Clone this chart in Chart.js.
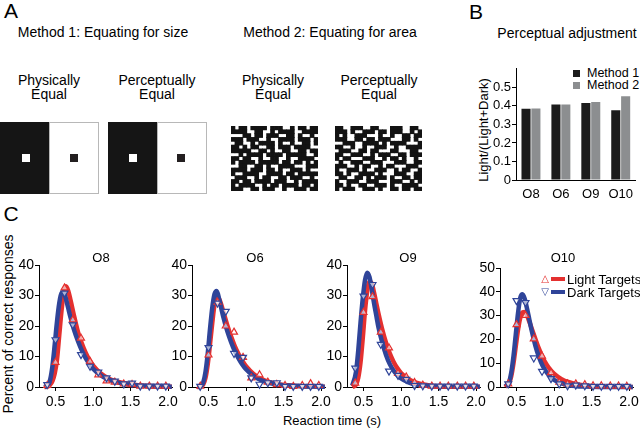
<!DOCTYPE html>
<html>
<head>
<meta charset="utf-8">
<script src="https://cdn.jsdelivr.net/npm/chart.js@4.4.0/dist/chart.umd.min.js"></script>
<style>
  html, body { margin: 0; padding: 0; background: #fff; }
  #fig { position: relative; width: 640px; height: 428px; overflow: hidden; background: #fff;
         font-family: 'Liberation Sans', Arial, sans-serif; color: #000; }
  #fig div { position: absolute; }
</style>
</head>
<body>
<div id="fig"></div>
<script>
// ---- datos panel B ----
const categoriasB = ['O8', 'O6', 'O9', 'O10'];
const metodo1 = [0.385, 0.407, 0.416, 0.376];
const metodo2 = [0.386, 0.408, 0.421, 0.452];
const ticksB = [0, 0.1, 0.2, 0.3, 0.4, 0.5];

// ---- datos panel C ----
// x de las curvas ajustadas (s)
const curvaX = [0.35, 0.40, 0.43, 0.46, 0.49, 0.52, 0.55, 0.58, 0.61, 0.64, 0.67, 0.70, 0.75, 0.80,
                0.85, 0.90, 0.95, 1.00, 1.10, 1.20, 1.30, 1.40, 1.50, 1.60, 1.70, 1.80, 1.90, 2.00, 2.05];
const o8Light  = [0, 0.2, 0.8, 2, 4.5, 9, 17, 25, 31, 33, 31.5, 28.5, 23, 18, 14.3, 11.3, 8.9, 7.1, 4.5, 2.9, 1.9, 1.3, 0.9, 0.6, 0.4, 0.3, 0.2, 0.15, 0.1];
const o8Dark   = [0, 0.6, 2.5, 7, 14, 21.5, 27.5, 30.8, 31, 28.8, 25.8, 22.8, 18.5, 15, 12, 9.5, 7.6, 6, 3.9, 2.5, 1.7, 1.1, 0.7, 0.5, 0.3, 0.2, 0.15, 0.1, 0.1];
const o6Light  = [0, 0.2, 0.8, 3, 7.5, 14, 21, 27, 29.5, 29, 27, 24.5, 20.3, 16.6, 13.4, 10.8, 8.6, 6.8, 4.3, 2.7, 1.7, 1.1, 0.7, 0.5, 0.3, 0.2, 0.15, 0.1, 0.1];
const o6Dark   = [0, 0.3, 1.5, 5, 11, 19, 26, 30.5, 31.5, 29, 25.8, 22.7, 18.3, 14.8, 11.8, 9.4, 7.4, 5.8, 3.6, 2.2, 1.4, 0.9, 0.6, 0.4, 0.3, 0.2, 0.15, 0.1, 0.1];
const o9Light  = [0, 0.8, 3, 8, 16, 25, 31.5, 34.5, 34, 31, 27.5, 24, 18.8, 14.5, 11, 8.3, 6.2, 4.6, 2.6, 1.4, 0.8, 0.45, 0.25, 0.15, 0.1, 0.05, 0.05, 0.05, 0.05];
const o9Dark   = [0.5, 5, 12, 21, 29, 35, 37.5, 36, 32, 27.5, 23.5, 19.5, 14.5, 10.5, 7.5, 5.4, 3.9, 2.8, 1.5, 0.8, 0.45, 0.25, 0.15, 0.1, 0.05, 0.05, 0.05, 0.05, 0.05];
const o10Light = [0.1, 1.5, 4.5, 10, 17, 24, 29, 31.3, 31.5, 30, 27.5, 24.8, 20.3, 16, 12.3, 9.5, 7.3, 5.6, 3.3, 2, 1.2, 0.75, 0.45, 0.3, 0.2, 0.12, 0.08, 0.05, 0.05];
const o10Dark  = [0.2, 2, 6, 13, 22, 31, 37.5, 39, 37, 33, 28.5, 24, 17.5, 12.5, 8.8, 6.2, 4.3, 3, 1.5, 0.7, 0.35, 0.2, 0.1, 0.05, 0.05, 0.05, 0.05, 0.05, 0.05];

// puntos medidos (marcadores)
const marcaX = [0.39, 0.50, 0.62, 0.73, 0.84, 0.96, 1.07, 1.18, 1.29, 1.41, 1.52, 1.63, 1.75, 1.86, 1.97];
const o8LightM  = [0.5, 8.1, 32.5, 22, 16, 8.4, 4, 2, 1.6, 1, 0.8, 0.3, 0.3, 0.3, 0.3];
const o8DarkM   = [0.8, 15.5, 30.8, 20.4, 10.6, 6.8, 4.9, 3, 1.9, 1, 1.3, 0.3, 0.3, 0.3, 0.3];
const o6LightM  = [0.3, 10.5, 27.8, 20, 18, 9.7, 3, 4, 1.6, 0.8, 0.5, 0.2, 0.5, 1.1, 0.5];
const o6DarkM   = [0.2, 12.9, 27.5, 24.8, 11, 9.7, 3, 0.9, 1.4, 1.4, 0.2, 0.2, 0.2, 0.2, 0.2];
const o9LightM  = [1.3, 24.5, 29.6, 18, 12.8, 4.5, 3.3, 1.5, 0.6, 0.3, 0.3, 0.3, 0.3, 0.3, 0.3];
const o9DarkM   = [6.2, 29.8, 33.6, 14, 5.2, 3.8, 2.5, 0.5, 0.4, 0.3, 0.3, 0.3, 0.3, 0.3, 0.3];
const o10LightM = [1.3, 26.2, 30.1, 20.2, 13, 6, 2, 1.3, 1.3, 1, 0.5, 0.5, 0.4, 0.4, 0.3];
const o10DarkM  = [1.3, 36.3, 35.5, 12.2, 6.6, 3.5, 1.3, 0.5, 0.8, 0.5, 0.3, 0.3, 0.3, 0.3, 0.3];
const ticksRT = [0.5, 1.0, 1.5, 2.0];

// ---- patrones panel A (metodo 2) ----
const patron1 = [
  "#.##.####.###..#.##.##",
  "####..##..#.####..####",
  "...##.##.###..##.#..#.",
  "###.###..#..####.###.#",
  ".##..#.####.#..#..##.#",
  "##.#.##..##.###.####..",
  "#####..##.#..##..##.##",
  "..#.####.####.#####..#",
  "##.##..#..##..#..####.",
  "#.####.#####.##.##.#.#",
  "..##..##.#..####...###",
  "####.###.##.#..###.#..",
  "#..####..####.##.#####",
  ".###..#.##..##.###..#.",
  "##.##.####.###..#.####",
  "#.####..#.##.####.##.#",
  "###..##.###..#..###.##"
];
const patron2 = [
  "##..###..##...###..##.",
  "###.#..###.##.###..#.#",
  "#.#..###...#..#..##.##",
  "###..##.##.###...##.#.",
  "..###..####.#.####...#",
  "##..#..#..###..#..####",
  ".###..##.##...##...##.",
  "##..###..#.###..##.###",
  "#.##...###..#.##.#..#.",
  ".#..###..###...###..##",
  "###..#.##..#.##...###.",
  "#..###.#..###..#.##..#",
  "##.#..####.#...###..##",
  ".##..##.#.###.#..##.##",
  "#..###..###...###..#.#",
  "##.#..##..###.#..####.",
  "#.###..###.#..##.##.##"
];

const RED = '#e4302f';
const BLUE = '#2f4499';
const FONT = "'Liberation Sans', Arial, sans-serif";
Chart.defaults.font.family = FONT;
Chart.defaults.color = '#000';
Chart.defaults.animation = false;

const fig = document.getElementById('fig');

function texto(t, x, y, size, opts) {
    opts = opts || {};
    const d = document.createElement('div');
    d.textContent = t;
    let tr = opts.left ? 'translate(0,-50%)' : 'translate(-50%,-50%)';
    if (opts.rot) tr += ' rotate(-90deg)';
    d.style.cssText = `left:${x}px;top:${y}px;font-size:${size}px;white-space:nowrap;line-height:1;transform:${tr};`
        + (opts.color ? `color:${opts.color};` : '') + (opts.font ? `font-family:${opts.font};` : '');
    fig.appendChild(d);
    return d;
}

function caja(x, y, w, h, estilo) {
    const d = document.createElement('div');
    d.style.cssText = `left:${x}px;top:${y}px;width:${w}px;height:${h}px;box-sizing:border-box;${estilo}`;
    fig.appendChild(d);
}

function nuevoCanvas(left, top, w, h) {
    const c = document.createElement('canvas');
    c.width = w;
    c.height = h;
    c.style.cssText = `position:absolute;left:${left}px;top:${top}px;width:${w}px;height:${h}px;`;
    fig.appendChild(c);
    return c;
}

function puntos(xs, ys) {
    return xs.map((x, i) => ({ x: x, y: ys[i] }));
}

// ---------- Panel A ----------
texto('A', 11, 10, 21);
texto('Method 1: Equating for size', 103, 32, 14);
texto('Method 2: Equating for area', 330, 32, 14);
[[49, 'Physically'], [157, 'Perceptually'], [273, 'Physically'], [379, 'Perceptually']].forEach(p => {
    texto(p[1], p[0], 80, 14);
    texto('Equal', p[0], 94, 14);
});
// estimulos metodo 1
[0, 108].forEach(x0 => {
    caja(x0, 122, 49, 72, 'background:#151515;');
    caja(x0 + 49, 122, 50, 72, 'background:#fff;border:1px solid #b8b8b8;');
});
caja(22, 154, 8, 8, 'background:#fff;');
caja(70, 154, 8, 8, 'background:#231f20;');
caja(129, 154, 8, 8, 'background:#fff;');
caja(177, 154, 8, 8, 'background:#231f20;');

function graficaPatron(patron, left) {
    const celdas = [];
    patron.forEach((fila, r) => {
        for (let c = 0; c < fila.length; c++) {
            if (fila[c] === '#') celdas.push({ x: c, y: r });
        }
    });
    const canvas = nuevoCanvas(left, 122, 95, 73);
    new Chart(canvas.getContext('2d'), {
        type: 'scatter',
        data: { datasets: [{ data: celdas, pointStyle: 'rect', pointRadius: 3.3, pointBorderWidth: 0,
                             pointBackgroundColor: '#131313' }] },
        options: {
            responsive: false, devicePixelRatio: 1,
            layout: { padding: 0 },
            plugins: { legend: { display: false }, tooltip: { enabled: false } },
            scales: {
                x: { display: false, min: -0.5, max: 21.5 },
                y: { display: false, reverse: true, min: -0.5, max: 16.5 }
            }
        }
    });
}
graficaPatron(patron1, 227);
graficaPatron(patron2, 331);

// ---------- Panel B ----------
texto('B', 476, 11, 21);
texto('Perceptual adjustment', 567, 33, 14);
texto('Light/(Light+Dark)', 483, 130, 13, { rot: true });
caja(573, 70, 7, 7, 'background:#1c1c1c;');
caja(573, 82, 7, 7, 'background:#8c8e90;');
texto('Method 1', 587, 73, 12.5, { left: true });
texto('Method 2', 587, 85, 12.5, { left: true });

const canvasB = nuevoCanvas(486, 60, 154, 145);
new Chart(canvasB.getContext('2d'), {
    type: 'bar',
    data: {
        labels: categoriasB,
        datasets: [
            { label: 'Method 1', data: metodo1, backgroundColor: '#1c1c1c' },
            { label: 'Method 2', data: metodo2, backgroundColor: '#8c8e90' }
        ]
    },
    options: {
        responsive: false, devicePixelRatio: 1,
        layout: { padding: { top: 8, right: 0, left: 0, bottom: 0 } },
        plugins: { legend: { display: false }, tooltip: { enabled: false } },
        datasets: { bar: { categoryPercentage: 0.66, barPercentage: 0.92 } },
        scales: {
            x: {
                afterFit: s => { s.height = 25; },
                grid: { display: false, drawTicks: false },
                border: { color: '#000', width: 1 },
                ticks: { font: { size: 13 }, padding: 7, color: '#000' }
            },
            y: {
                min: 0, max: 0.6,
                afterBuildTicks: ax => { ax.ticks = ticksB.map(v => ({ value: v })); },
                afterFit: s => { s.width = 30; },
                grid: { drawOnChartArea: false, color: '#000', tickLength: 4 },
                border: { color: '#000', width: 1 },
                ticks: { font: { size: 13 }, padding: 1, color: '#000' }
            }
        }
    }
});

// ---------- Panel C ----------
texto('C', 11, 213, 21);
texto('Percent of correct responses', 8, 324, 14, { rot: true });
texto('Reaction time (s)', 332, 420, 13);

function graficaRT(ejeX, yMax, padTop, light, dark, lightM, darkM) {
    const canvas = nuevoCanvas(ejeX - 30, 255, 172, 154);
    const ticksY = [];
    for (let v = 0; v <= yMax; v += 10) ticksY.push(v);
    const marca = (ys, color, rot, orden) => ({
        data: puntos(marcaX, ys), showLine: false, pointStyle: 'triangle', pointRotation: rot,
        pointRadius: 4, pointBorderWidth: 1.2, pointBorderColor: color,
        pointBackgroundColor: 'rgba(255,255,255,0.6)', clip: false, order: orden
    });
    const curva = (ys, color, orden) => ({
        data: puntos(curvaX, ys), borderColor: color, borderWidth: 4.5, pointRadius: 0,
        cubicInterpolationMode: 'monotone', fill: false, clip: false, order: orden
    });
    new Chart(canvas.getContext('2d'), {
        type: 'line',
        data: { datasets: [
            marca(darkM, BLUE, 180, 0),
            marca(lightM, RED, 0, 1),
            curva(dark, BLUE, 2),
            curva(light, RED, 3)
        ] },
        options: {
            responsive: false, devicePixelRatio: 1,
            layout: { padding: { top: padTop, right: 6, left: 0, bottom: 0 } },
            plugins: { legend: { display: false }, tooltip: { enabled: false } },
            scales: {
                x: {
                    type: 'linear', min: 0.28, max: 2.06,
                    afterBuildTicks: ax => { ax.ticks = ticksRT.map(v => ({ value: v })); },
                    afterFit: s => { s.height = 22; },
                    grid: { drawOnChartArea: false, color: '#000', tickLength: 4 },
                    border: { color: '#000', width: 1 },
                    ticks: { callback: v => Number(v).toFixed(1), font: { size: 14 }, padding: 3,
                             maxRotation: 0, color: '#000' }
                },
                y: {
                    min: 0, max: yMax,
                    afterBuildTicks: ax => { ax.ticks = ticksY.map(v => ({ value: v })); },
                    afterFit: s => { s.width = 30; },
                    grid: { drawOnChartArea: false, color: '#000', tickLength: 4 },
                    border: { color: '#000', width: 1 },
                    ticks: { font: { size: 14 }, padding: 1, color: '#000' }
                }
            }
        }
    });
}

graficaRT(39, 40, 10, o8Light, o8Dark, o8LightM, o8DarkM);
graficaRT(192, 40, 10, o6Light, o6Dark, o6LightM, o6DarkM);
graficaRT(347, 40, 10, o9Light, o9Dark, o9LightM, o9DarkM);
graficaRT(500, 50, 13, o10Light, o10Dark, o10LightM, o10DarkM);

texto('O8', 101, 257, 13);
texto('O6', 255, 257, 13);
texto('O9', 408, 257, 13);
texto('O10', 563, 257, 13);

// leyenda panel C
texto('\u25B3', 545, 279, 10, { color: RED, font: "'DejaVu Sans', sans-serif" });
caja(551, 277, 14, 4, 'background:' + RED + ';');
texto('Light Targets', 567, 279, 13, { left: true });
texto('\u25BD', 545, 292, 10, { color: BLUE, font: "'DejaVu Sans', sans-serif" });
caja(551, 290, 14, 4, 'background:' + BLUE + ';');
texto('Dark Targets', 567, 292, 13, { left: true });
</script>
</body>
</html>
